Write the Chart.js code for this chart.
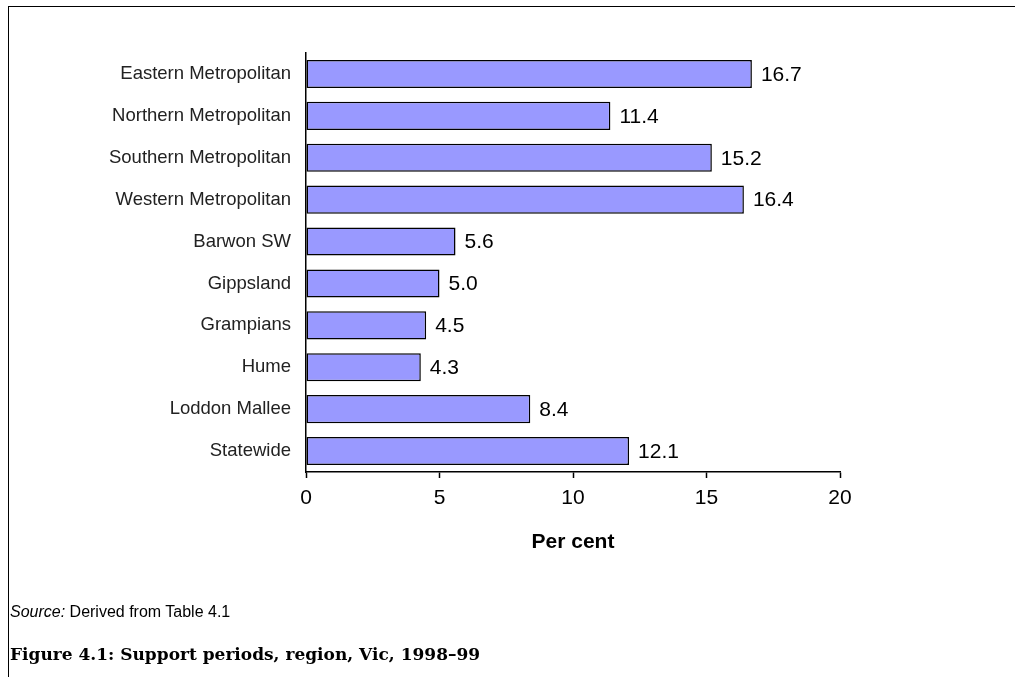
<!DOCTYPE html>
<html>
<head>
<meta charset="utf-8">
<script src="https://cdn.jsdelivr.net/npm/chart.js@4"></script>
<style>
    body { margin: 0; background: #fff; }
    #wrap { position: relative; width: 1015px; height: 677px; overflow: hidden; }
    #frame { position: absolute; left: 8px; top: 6px; width: 1100px; height: 800px;
             border-left: 1px solid #000; border-top: 1px solid #000; }
    #chart { position: absolute; left: 0; top: 0; }
    .source { position: absolute; left: 10px; top: 603px; font: 16px "Liberation Sans", Arial, sans-serif; color: #000; }
    .figtitle { position: absolute; left: 10px; top: 644px; font: bold 17px "DejaVu Serif", serif; color: #000; }
</style>
</head>
<body>
<div id="wrap">
    <div id="frame"></div>
    <canvas id="chart" width="1015" height="677"></canvas>
    <div class="source"><i>Source:</i> Derived from Table 4.1</div>
    <div class="figtitle">Figure 4.1: Support periods, region, Vic, 1998–99</div>
</div>
<script>
// ── Datos ─────────────────────────────────────────────────────────────
const regiones = [
    "Eastern Metropolitan", "Northern Metropolitan", "Southern Metropolitan",
    "Western Metropolitan", "Barwon SW", "Gippsland", "Grampians", "Hume",
    "Loddon Mallee", "Statewide"
];
const porcentajes = [16.7, 11.4, 15.2, 16.4, 5.6, 5.0, 4.5, 4.3, 8.4, 12.1];
const ticksX = [0, 5, 10, 15, 20];

const FUENTE = '"Liberation Sans", Arial, sans-serif';

// etiquetas de valor al final de cada barra
const valoresPlugin = {
    id: "valores",
    afterDatasetsDraw(chart) {
        const ctx  = chart.ctx;
        const meta = chart.getDatasetMeta(0);
        ctx.save();
        ctx.font         = `21px ${FUENTE}`;
        ctx.fillStyle    = "#000";
        ctx.textAlign    = "left";
        ctx.textBaseline = "middle";
        meta.data.forEach((bar, i) => {
            ctx.fillText(porcentajes[i].toFixed(1), bar.x + 9, bar.y + 1);
        });
        ctx.restore();
    }
};

new Chart(document.getElementById("chart"), {
    type: "bar",
    data: {
        labels: regiones,
        datasets: [{
            data: porcentajes,
            backgroundColor: "#9999ff",
            borderColor: "#000",
            borderWidth: 1.5,
            borderSkipped: false,
            categoryPercentage: 1,
            barPercentage: 0.67,
        }]
    },
    options: {
        indexAxis: "y",
        responsive: false,
        animation: false,
        layout: { padding: { top: 53, right: 175, bottom: 122, left: 0 } },
        plugins: { legend: { display: false }, tooltip: { enabled: false } },
        scales: {
            x: {
                min: 0, max: 20,
                afterBuildTicks(scale) { scale.ticks = ticksX.map(v => ({ value: v })); },
                afterFit(scale) { scale.height = 83; },
                grid: { drawOnChartArea: false, drawTicks: true, tickLength: 6, tickColor: "#000", tickWidth: 1.5 },
                border: { display: true, color: "#000", width: 1.5 },
                ticks: { color: "#000", padding: 8, font: { family: FUENTE, size: 21 } },
                title: {
                    display: true, text: "Per cent", color: "#000",
                    padding: { top: 0, bottom: 0 },
                    font: { family: FUENTE, size: 21, weight: "bold" }
                }
            },
            y: {
                afterFit(scale) { scale.width = 306; },
                grid: { drawOnChartArea: false, drawTicks: false },
                border: { display: true, color: "#000", width: 1.5 },
                ticks: { color: "#222", padding: 15, font: { family: FUENTE, size: 18.5 } }
            }
        }
    },
    plugins: [valoresPlugin]
});
</script>
</body>
</html>
